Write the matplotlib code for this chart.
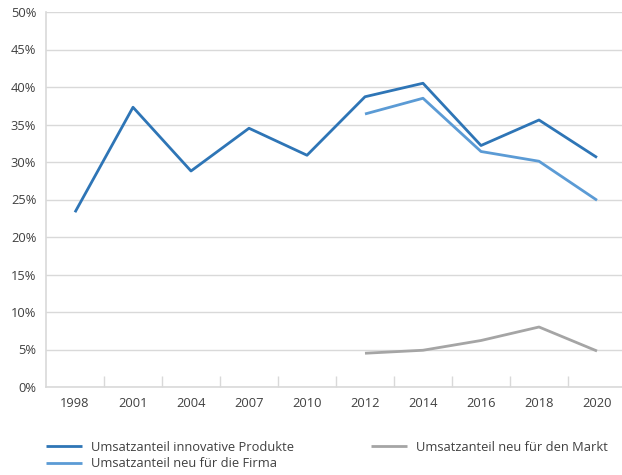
import matplotlib
matplotlib.use("Agg")
import matplotlib.pyplot as plt
import numpy as np

years = ["1998", "2001", "2004", "2007", "2010", "2012", "2014", "2016", "2018", "2020"]
innovative = [23.3, 37.3, 28.8, 34.5, 30.9, 38.7, 40.5, 32.2, 35.6, 30.6]
neu_firma = [None, None, None, None, None, 36.4, 38.5, 31.4, 30.1, 24.9]
neu_markt = [None, None, None, None, None, 4.5, 4.9, 6.2, 8.0, 4.8]
y_ticks = [0, 5, 10, 15, 20, 25, 30, 35, 40, 45, 50]

labels = ["Umsatzanteil innovative Produkte", "Umsatzanteil neu für die Firma",
          "Umsatzanteil neu für den Markt"]
colors = ["#2E75B6", "#5B9BD5", "#A5A5A5"]

plt.rcParams['font.family'] = ['Open Sans', 'DejaVu Sans']
text_color = "#404040"
fs = 9.3

fig = plt.figure(figsize=(6.22, 4.75), dpi=100)
ax = fig.add_axes([46/622, 88/475, 580/622, 375/475])

x = np.arange(len(years))

def to_arr(v):
    return np.array([np.nan if a is None else a for a in v], dtype=float)

h1, = ax.plot(x, to_arr(innovative), color=colors[0], lw=2.0, label=labels[0], solid_capstyle='butt')
h2, = ax.plot(x, to_arr(neu_firma), color=colors[1], lw=2.0, label=labels[1], solid_capstyle='butt')
h3, = ax.plot(x, to_arr(neu_markt), color=colors[2], lw=2.0, label=labels[2], solid_capstyle='butt')

ax.set_xlim(-0.5, len(years) - 0.5)
ax.set_ylim(0, 50)
ax.set_yticks(y_ticks)
ax.set_yticklabels([f"{t}%" for t in y_ticks])
ax.yaxis.grid(True, color="#D9D9D9", lw=1.0)
ax.set_axisbelow(True)

ax.set_xticks(x)
ax.set_xticklabels(years)
ax.set_xticks(np.arange(0.5, len(years) - 0.5, 1.0), minor=True)
ax.tick_params(axis='x', which='major', length=0, pad=7, labelsize=fs, labelcolor=text_color)
ax.tick_params(axis='x', which='minor', direction='in', length=8, width=1, color="#D9D9D9")
ax.tick_params(axis='y', length=0, pad=7, labelsize=fs, labelcolor=text_color)

for s in ['top', 'right']:
    ax.spines[s].set_visible(False)
ax.spines['left'].set_color("#D9D9D9")
ax.spines['bottom'].set_color("#D9D9D9")
ax.spines['left'].set_linewidth(1.2)
ax.spines['bottom'].set_linewidth(1.2)

leg1 = fig.legend(handles=[h1, h2], loc='upper left', bbox_to_anchor=(42/622, 1 - 437/475),
                  frameon=False, fontsize=fs, handlelength=2.8, handletextpad=0.7,
                  labelspacing=0.25, borderaxespad=0, borderpad=0.3)
for t in leg1.get_texts():
    t.set_color(text_color)
leg2 = fig.legend(handles=[h3], loc='upper left', bbox_to_anchor=(367/622, 1 - 437/475),
                  frameon=False, fontsize=fs, handlelength=2.8, handletextpad=0.7,
                  borderaxespad=0, borderpad=0.3)
for t in leg2.get_texts():
    t.set_color(text_color)

fig.savefig("out.png", dpi=100)
